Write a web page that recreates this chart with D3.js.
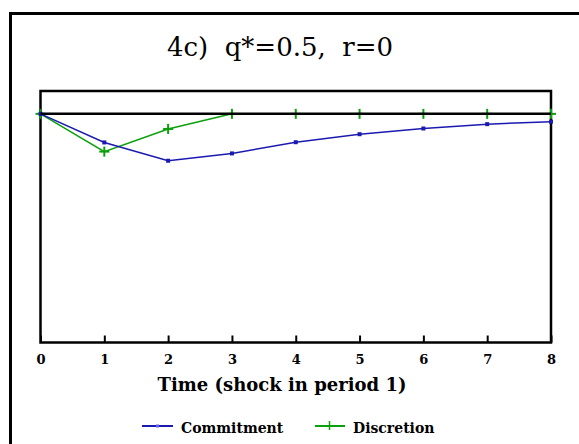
<!DOCTYPE html>
<html><head><meta charset="utf-8">
<script src="https://cdn.jsdelivr.net/npm/d3@7"></script>
<style>body{margin:0;background:#fff;} svg{display:block;}</style>
</head><body>
<svg id="c" width="579" height="444"></svg>
<script>
const periods = [0,1,2,3,4,5,6,7,8];
const commitment = [0,-0.125,-0.205,-0.173,-0.124,-0.089,-0.064,-0.045,-0.034];
const discretion = [0,-0.165,-0.066,0,0,0,0,0,0];
const xTicks = [0,1,2,3,4,5,6,7,8];
const titleText = "4c)  q*=0.5,  r=0";
const xLabel = "Time (shock in period 1)";
const seriesNames = ["Commitment","Discretion"];

const svg = d3.select("#c");
const L=40.5, R=551, T=91, B=342.5;
const x = d3.scaleLinear().domain([0,8]).range([L,R]);
const y = d3.scaleLinear().domain([-1,0.1]).range([B,T]);

// outer frame
svg.append("path").attr("d",`M10.5,460 L10.5,13.5 L590,13.5`).attr("fill","none").attr("stroke","#000").attr("stroke-width",3);

// title
svg.append("text").attr("x",280).attr("y",56).attr("text-anchor","middle")
  .attr("font-family","'DejaVu Serif', serif").attr("font-size",26)
  .style("white-space","pre").text(titleText);

// plot box
svg.append("rect").attr("x",L).attr("y",T).attr("width",R-L).attr("height",B-T)
  .attr("fill","none").attr("stroke","#000").attr("stroke-width",2.5);

// x axis ticks (inward)
const ax = d3.axisBottom(x).tickValues(xTicks).tickSize(-7).tickPadding(12).tickFormat(d3.format("d"));
const g = svg.append("g").attr("transform",`translate(0,${B})`).call(ax);
g.select(".domain").remove();
g.selectAll(".tick line").attr("stroke","#000").attr("stroke-width",2);
g.selectAll(".tick text").attr("font-family","'DejaVu Serif', serif").attr("font-weight","bold").attr("font-size",13).attr("fill","#000");

svg.append("text").attr("x",282).attr("y",391).attr("text-anchor","middle")
  .attr("font-family","'DejaVu Serif', serif").attr("font-weight","bold").attr("font-size",18).text(xLabel);

const line = d3.line().x((d,i)=>x(periods[i])).y(d=>y(d));
const blue="#1a1ab0", green="#0aa00a";

// discretion
svg.append("path").datum(discretion).attr("d",line).attr("fill","none").attr("stroke",green).attr("stroke-width",1.5);
const plus = (sel,cx,cy)=>{
  sel.append("line").attr("x1",cx-5).attr("x2",cx+5).attr("y1",cy).attr("y2",cy).attr("stroke",green).attr("stroke-width",2);
  sel.append("line").attr("x1",cx).attr("x2",cx).attr("y1",cy-5).attr("y2",cy+5).attr("stroke",green).attr("stroke-width",2);
};
const gp = svg.append("g");
discretion.forEach((d,i)=>plus(gp,x(periods[i]),y(d)));

// commitment
svg.append("path").datum(commitment).attr("d",line).attr("fill","none").attr("stroke",blue).attr("stroke-width",1.5);
svg.append("g").selectAll("rect").data(commitment).join("rect")
  .attr("x",(d,i)=>x(periods[i])-2).attr("y",d=>y(d)-2).attr("width",4).attr("height",4).attr("fill",blue);

// zero line
svg.append("line").attr("x1",L).attr("x2",R).attr("y1",y(0)).attr("y2",y(0)).attr("stroke","#000").attr("stroke-width",2.5);

// legend
const ly=426;
svg.append("line").attr("x1",142).attr("x2",173).attr("y1",ly).attr("y2",ly).attr("stroke",blue).attr("stroke-width",2);
svg.append("rect").attr("x",156).attr("y",ly-1.5).attr("width",3).attr("height",3).attr("fill","#6060ff");
svg.append("text").attr("x",181).attr("y",433).attr("font-family","'DejaVu Serif', serif").attr("font-weight","bold").attr("font-size",14).text(seriesNames[0]);
svg.append("line").attr("x1",315).attr("x2",345).attr("y1",ly).attr("y2",ly).attr("stroke",green).attr("stroke-width",2);
svg.append("line").attr("x1",329.5).attr("x2",329.5).attr("y1",ly-5).attr("y2",ly+4).attr("stroke",green).attr("stroke-width",1.5);
svg.append("text").attr("x",353).attr("y",433).attr("font-family","'DejaVu Serif', serif").attr("font-weight","bold").attr("font-size",14).text(seriesNames[1]);
</script>
</body></html>
